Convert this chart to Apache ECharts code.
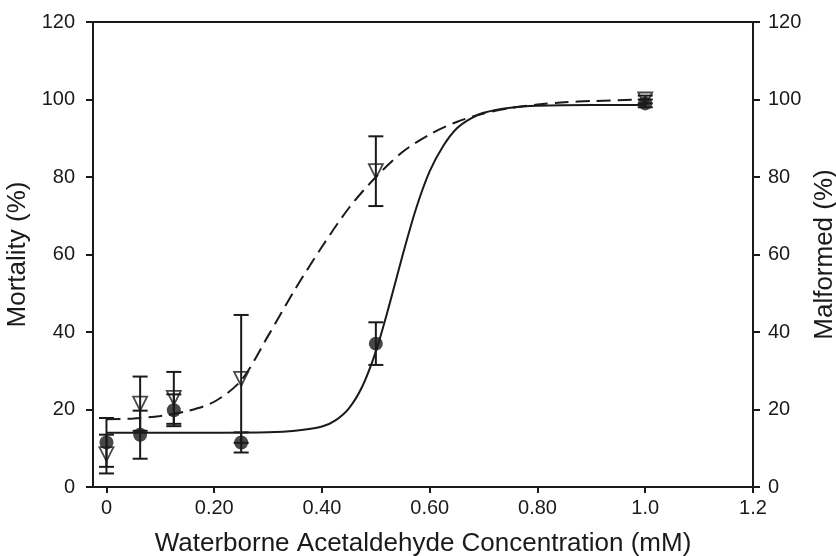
<!DOCTYPE html>
<html>
<head>
<meta charset="utf-8">
<script src="https://cdn.jsdelivr.net/npm/echarts@6/dist/echarts.min.js"></script>
<style>
  html, body { margin: 0; padding: 0; background: #fff; }
  #chart { width: 836px; height: 556px; }
</style>
</head>
<body>
<div id="chart"></div>
<script>
// measured points
const concentrations = [0, 0.0625, 0.125, 0.25, 0.5, 1.0];
const mortality = [11.5, 13.5, 19.8, 11.5, 37, 99];
const mortalityErr = [6.3, 6.2, 4.1, 2.6, 5.5, 1];
const malformed = [8.5, 21.5, 23, 27.9, 81.5, 100];
const malformedErr = [5, 7, 6.7, 16.5, 9, 1];

// fitted curves
const mortalityFitX = [0, 0.1, 0.2, 0.3, 0.35, 0.4, 0.425, 0.45, 0.475, 0.5, 0.525, 0.55, 0.575, 0.6, 0.625, 0.65, 0.675, 0.7, 0.75, 0.8, 0.9, 1.0];
const mortalityFitY = [14, 14, 14, 14.1, 14.5, 15.6, 17.2, 20.3, 26, 35, 47, 60, 72, 81.5, 88, 92.5, 95, 96.6, 97.9, 98.4, 98.6, 98.6];
const malformedFitX = [0, 0.05, 0.1, 0.15, 0.2, 0.25, 0.3, 0.35, 0.4, 0.45, 0.5, 0.55, 0.6, 0.65, 0.7, 0.75, 0.8, 0.85, 0.9, 1.0];
const malformedFitY = [17.5, 17.7, 18.3, 19.6, 22, 27.5, 39, 51, 62, 72, 80, 86.5, 91, 94.2, 96.4, 97.8, 98.7, 99.3, 99.6, 100];

const xTicks = [0, 0.2, 0.4, 0.6, 0.8, 1.0, 1.2];
const xTickLabels = ['0', '0.20', '0.40', '0.60', '0.80', '1.0', '1.2'];

const font = 'Liberation Sans, Arial, sans-serif';
const ink = '#1a1a1a';

function zip(xs, ys) {
  return xs.map((x, i) => [x, ys[i]]);
}

function errData(ys, errs) {
  return concentrations.map((x, i) => [x, ys[i] - errs[i], ys[i] + errs[i]]);
}

function renderErr(params, api) {
  const x = api.value(0);
  const lo = api.coord([x, api.value(1)]);
  const hi = api.coord([x, api.value(2)]);
  const half = 7.5;
  const style = { stroke: ink, lineWidth: 2 };
  return {
    type: 'group',
    children: [
      { type: 'line', shape: { x1: lo[0], y1: lo[1], x2: hi[0], y2: hi[1] }, style: style },
      { type: 'line', shape: { x1: lo[0] - half, y1: lo[1], x2: lo[0] + half, y2: lo[1] }, style: style },
      { type: 'line', shape: { x1: hi[0] - half, y1: hi[1], x2: hi[0] + half, y2: hi[1] }, style: style }
    ]
  };
}

const yAxisBase = {
  type: 'value',
  min: 0,
  max: 120,
  interval: 20,
  nameLocation: 'middle',
  nameTextStyle: { fontFamily: font, fontSize: 26, color: ink },
  axisLine: { show: true, onZero: false, lineStyle: { color: ink, width: 2 } },
  axisTick: { show: true, length: 7, lineStyle: { color: ink, width: 2 } },
  axisLabel: { fontFamily: font, fontSize: 20, color: ink },
  splitLine: { show: false }
};

const chart = echarts.init(document.getElementById('chart'), null, { renderer: 'canvas' });

chart.setOption({
  animation: false,
  backgroundColor: '#fff',
  grid: { left: 93, right: 83, top: 22, bottom: 69, outerBoundsMode: 'none' },
  xAxis: [{
    type: 'value',
    min: -0.025,
    max: 1.2,
    name: 'Waterborne Acetaldehyde Concentration (mM)',
    nameLocation: 'middle',
    nameGap: 44,
    nameTextStyle: { fontFamily: font, fontSize: 26, color: ink },
    axisLine: { show: true, onZero: false, lineStyle: { color: ink, width: 2 } },
    axisTick: { show: true, length: 6, customValues: xTicks, lineStyle: { color: ink, width: 2 } },
    axisLabel: {
      fontFamily: font, fontSize: 20, color: ink, margin: 11,
      customValues: xTicks,
      formatter: v => xTickLabels[Math.round(v / 0.2)]
    },
    splitLine: { show: false }
  }, {
    type: 'value',
    position: 'top',
    min: -0.025,
    max: 1.2,
    axisLine: { show: true, onZero: false, lineStyle: { color: ink, width: 2 } },
    axisTick: { show: false },
    axisLabel: { show: false },
    splitLine: { show: false }
  }],
  yAxis: [
    Object.assign({}, yAxisBase, {
      position: 'left',
      name: 'Mortality (%)',
      nameGap: 62,
      axisLabel: Object.assign({}, yAxisBase.axisLabel, { margin: 18 })
    }),
    Object.assign({}, yAxisBase, {
      position: 'right',
      name: 'Malformed (%)',
      nameGap: 54,
      nameRotate: 90,
      axisLabel: Object.assign({}, yAxisBase.axisLabel, { margin: 15 })
    })
  ],
  series: [
    {
      name: 'mortality fit',
      type: 'line',
      data: zip(mortalityFitX, mortalityFitY),
      smooth: 0.3,
      showSymbol: false,
      lineStyle: { color: ink, width: 2 },
      z: 2
    },
    {
      name: 'malformed fit',
      type: 'line',
      yAxisIndex: 1,
      data: zip(malformedFitX, malformedFitY),
      smooth: 0.3,
      showSymbol: false,
      lineStyle: { color: ink, width: 2, type: [14, 7] },
      z: 2
    },
    {
      name: 'mortality err',
      type: 'custom',
      data: errData(mortality, mortalityErr),
      renderItem: renderErr,
      encode: { x: 0, y: [1, 2] },
      z: 3
    },
    {
      name: 'malformed err',
      type: 'custom',
      yAxisIndex: 1,
      data: errData(malformed, malformedErr),
      renderItem: renderErr,
      encode: { x: 0, y: [1, 2] },
      z: 3
    },
    {
      name: 'Mortality',
      type: 'scatter',
      data: zip(concentrations, mortality),
      symbol: 'circle',
      symbolSize: 14,
      itemStyle: { color: ink },
      z: 4
    },
    {
      name: 'Malformed',
      type: 'scatter',
      yAxisIndex: 1,
      data: zip(concentrations, malformed),
      symbol: 'triangle',
      symbolRotate: 180,
      symbolSize: 14,
      itemStyle: { color: 'rgba(0,0,0,0)', borderColor: ink, borderWidth: 1.8 },
      z: 4
    }
  ]
});
</script>
</body>
</html>
